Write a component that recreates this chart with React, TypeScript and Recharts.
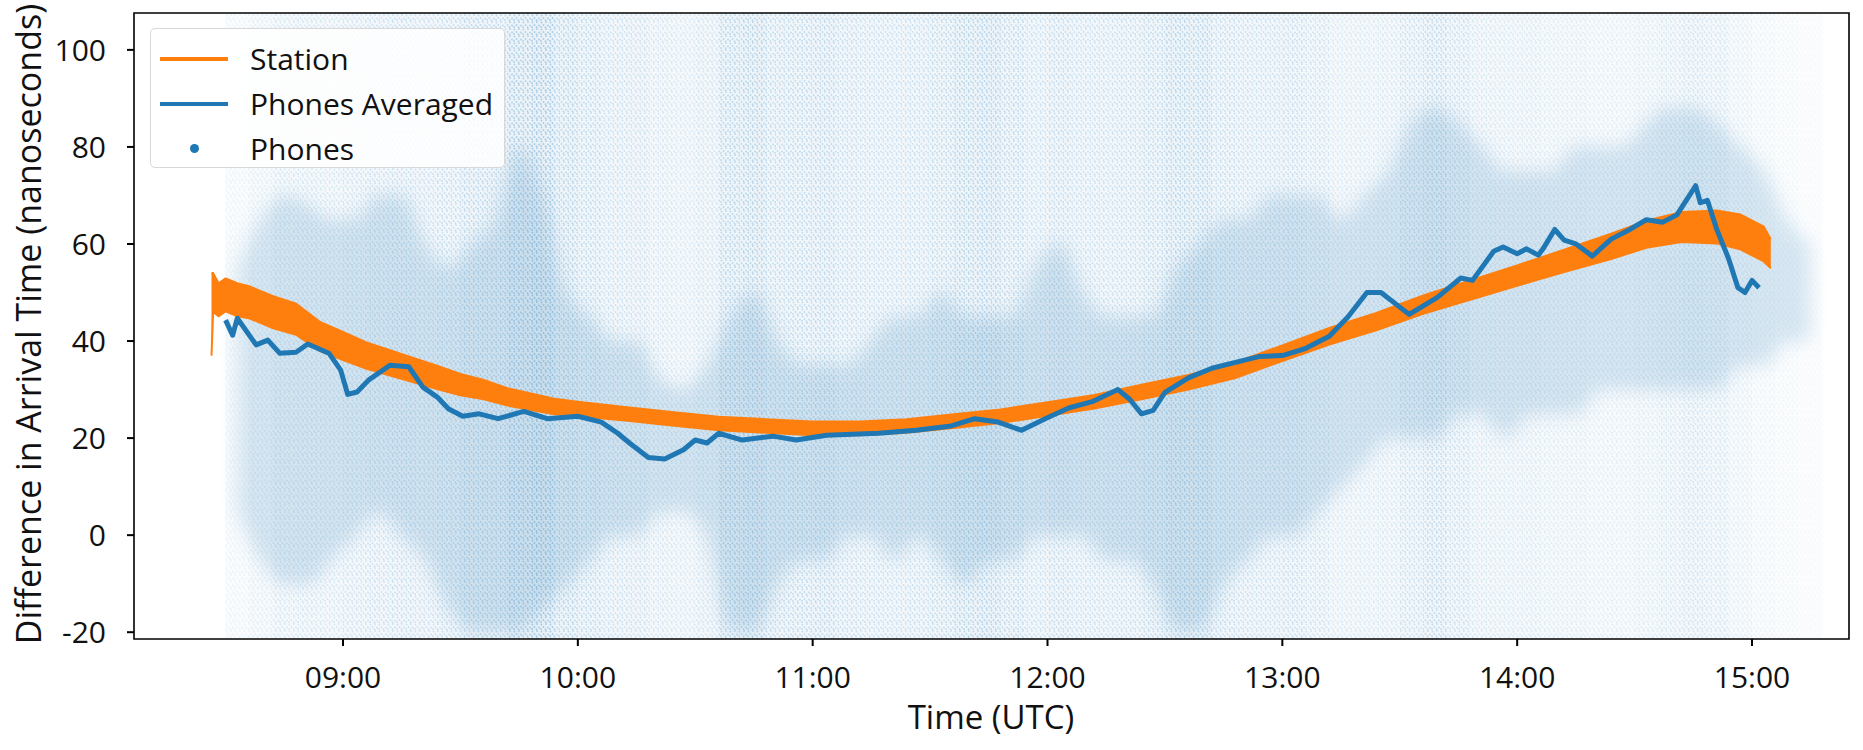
import React from 'react'
import { ComposedChart, Area, Line, XAxis, YAxis, ReferenceArea, Label } from 'recharts'

const BLUE = '#1f77b4'
const ORANGE = '#ff7f0e'
const FONT = "'Open Sans', sans-serif"

const X_MIN = 8.11
const X_MAX = 15.413
const Y_MIN = -21.4
const Y_MAX = 107.6

const xTicks = [9, 10, 11, 12, 13, 14, 15]
const yTicks = [-20, 0, 20, 40, 60, 80, 100]

// station (orange) – centre of the noisy band and its half width
const stationTime = [8.44, 8.447, 8.47, 8.5, 8.55, 8.6, 8.7, 8.8, 8.9, 9.0, 9.1, 9.2, 9.3, 9.4, 9.5, 9.6, 9.7, 9.8, 9.9, 10.0, 10.2, 10.4, 10.6, 10.8, 11.0, 11.2, 11.4, 11.6, 11.8, 12.0, 12.2, 12.4, 12.6, 12.8, 13.0, 13.2, 13.4, 13.6, 13.8, 14.0, 14.2, 14.4, 14.55, 14.7, 14.85, 14.95, 15.05, 15.08]
const stationMid = [45.5, 50, 48.5, 49.5, 48.5, 48, 46, 44.5, 41, 39, 37, 35.5, 34, 32.5, 31, 30, 28.5, 27.5, 26.5, 26, 25, 24, 23, 22.5, 22, 22, 22.5, 23.5, 24.5, 26, 27.5, 29.5, 31.5, 34, 37.5, 41, 44, 47.5, 50.5, 53.5, 56.5, 59.5, 62, 63.5, 63.5, 62.5, 60, 58]
const stationHalf = [8.5, 4, 3.4, 3.4, 3.4, 3.3, 3.3, 3.2, 3, 2.9, 2.7, 2.6, 2.5, 2.4, 2.2, 2, 1.8, 1.7, 1.6, 1.5, 1.4, 1.4, 1.4, 1.4, 1.4, 1.4, 1.4, 1.4, 1.4, 1.4, 1.4, 1.5, 1.5, 1.6, 1.6, 1.7, 1.8, 1.9, 2, 2.1, 2.3, 2.6, 2.8, 3.1, 3.4, 3.6, 3.6, 3]

// phones averaged (blue line)
const avgTime = [8.5, 8.53, 8.55, 8.63, 8.68, 8.73, 8.8, 8.85, 8.94, 8.99, 9.02, 9.06, 9.11, 9.2, 9.28, 9.34, 9.4, 9.45, 9.51, 9.58, 9.66, 9.77, 9.87, 10.0, 10.1, 10.17, 10.22, 10.3, 10.37, 10.45, 10.5, 10.55, 10.6, 10.7, 10.83, 10.93, 11.06, 11.28, 11.44, 11.59, 11.69, 11.79, 11.89, 11.99, 12.09, 12.19, 12.3, 12.35, 12.4, 12.45, 12.5, 12.6, 12.7, 12.8, 12.9, 13.0, 13.1, 13.2, 13.28, 13.36, 13.42, 13.54, 13.66, 13.76, 13.81, 13.9, 13.94, 14.0, 14.04, 14.09, 14.11, 14.16, 14.2, 14.25, 14.32, 14.4, 14.48, 14.55, 14.62, 14.68, 14.72, 14.76, 14.78, 14.81, 14.85, 14.9, 14.94, 14.97, 15.0, 15.03]
const avgValue = [44.3, 41.2, 44.7, 39.2, 40.2, 37.5, 37.7, 39.4, 37.5, 34, 29, 29.5, 32, 35, 34.7, 30.5, 28.5, 26, 24.5, 25, 24, 25.5, 24, 24.5, 23.3, 21, 19, 16, 15.7, 17.6, 19.6, 19, 21, 19.6, 20.4, 19.6, 20.6, 21, 21.6, 22.5, 24, 23.3, 21.6, 24, 26.2, 27.5, 30, 28, 25, 25.7, 29.4, 32.4, 34.4, 35.6, 36.8, 37, 38.5, 41, 45, 50, 50, 45.5, 49, 53, 52.5, 58.5, 59.4, 58, 59, 57.7, 59, 63, 60.8, 60, 57.5, 61, 63, 65, 64.5, 66, 69, 72, 68.5, 69, 63, 57, 51, 50, 52.5, 51]

// phones (scatter): density of the dots per 6-minute strip over the full height,
// and the range where the dots are thickest
const binStart = [8.5, 8.6, 8.7, 8.8, 8.9, 9.0, 9.1, 9.2, 9.3, 9.4, 9.5, 9.6, 9.7, 9.8, 9.9, 10.0, 10.1, 10.2, 10.3, 10.4, 10.5, 10.6, 10.7, 10.8, 10.9, 11.0, 11.1, 11.2, 11.3, 11.4, 11.5, 11.6, 11.7, 11.8, 11.9, 12.0, 12.1, 12.2, 12.3, 12.4, 12.5, 12.6, 12.7, 12.8, 12.9, 13.0, 13.1, 13.2, 13.3, 13.4, 13.5, 13.6, 13.7, 13.8, 13.9, 14.0, 14.1, 14.2, 14.3, 14.4, 14.5, 14.6, 14.7, 14.8, 14.9, 15.0, 15.1, 15.2]
const binDensity = [0.1, 0.15, 0.2, 0.21, 0.2, 0.23, 0.25, 0.27, 0.25, 0.28, 0.32, 0.32, 0.4, 0.44, 0.34, 0.3, 0.26, 0.25, 0.21, 0.19, 0.22, 0.34, 0.36, 0.3, 0.31, 0.32, 0.28, 0.26, 0.26, 0.27, 0.3, 0.35, 0.36, 0.31, 0.26, 0.29, 0.26, 0.26, 0.27, 0.3, 0.35, 0.34, 0.28, 0.26, 0.26, 0.27, 0.24, 0.19, 0.19, 0.2, 0.26, 0.31, 0.26, 0.2, 0.19, 0.19, 0.17, 0.17, 0.15, 0.15, 0.17, 0.2, 0.22, 0.2, 0.14, 0.1, 0.08, 0.05]
const coreLow = [5, -5, -10, -10, -5, 0, 5, 0, -5, -15, -20, -20, -20, -15, -10, -5, 0, 0, 5, 5, 0, -20, -20, -10, -5, -5, 0, 0, -5, 0, -5, -10, -5, -5, 0, 0, 0, -5, -5, -10, -20, -20, -10, -5, 0, 0, 5, 10, 15, 20, 20, 20, 25, 25, 20, 25, 25, 25, 30, 30, 30, 30, 30, 30, 35, 35, 40, 40]
const coreHigh = [55, 65, 70, 68, 65, 65, 70, 70, 60, 55, 60, 65, 80, 70, 50, 45, 40, 40, 32, 30, 35, 45, 50, 40, 35, 35, 35, 40, 45, 45, 50, 45, 45, 45, 55, 60, 50, 45, 45, 45, 55, 60, 65, 65, 70, 70, 70, 65, 70, 75, 85, 88, 85, 80, 75, 75, 75, 80, 80, 80, 85, 88, 88, 85, 80, 75, 65, 60]
const BIN_WIDTH = 0.1

const stationData = stationTime.map((t, i) => ({
  t,
  range: [stationMid[i] - stationHalf[i], stationMid[i] + stationHalf[i]],
}))
const avgData = avgTime.map((t, i) => ({ t, value: avgValue[i] }))
const coreData = binStart.map((t, i) => ({ t: t + BIN_WIDTH / 2, range: [coreLow[i], coreHigh[i]] }))

const fmtHour = (h: number) => `${String(h).padStart(2, '0')}:00`

function DotPattern() {
  return (
    <svg width={0} height={0} style={{ position: 'absolute' }}>
      <defs>
        <pattern id="phoneDots" patternUnits="userSpaceOnUse" width={9} height={7}>
          <rect width={9} height={7} fill={BLUE} fillOpacity={0.22} />
          <circle cx={1.5} cy={1.5} r={0.9} fill={BLUE} fillOpacity={0.85} />
          <circle cx={6} cy={1} r={0.9} fill={BLUE} fillOpacity={0.85} />
          <circle cx={3.5} cy={4} r={0.9} fill={BLUE} fillOpacity={0.85} />
          <circle cx={8} cy={4.5} r={0.9} fill={BLUE} fillOpacity={0.85} />
          <circle cx={1} cy={6} r={0.9} fill={BLUE} fillOpacity={0.85} />
          <circle cx={5.5} cy={6.2} r={0.9} fill={BLUE} fillOpacity={0.85} />
        </pattern>
      </defs>
    </svg>
  )
}

function ChartLegend() {
  const row = { display: 'flex', alignItems: 'center', height: 45 }
  const text = { fontFamily: FONT, fontSize: 30, color: '#111', marginLeft: 22 }
  return (
    <div
      style={{
        position: 'absolute',
        left: 150,
        top: 28,
        width: 355,
        height: 140,
        boxSizing: 'border-box',
        border: '1px solid #d8d8d8',
        borderRadius: 5,
        background: 'rgba(255,255,255,0.85)',
        padding: '7px 0 0 9px',
      }}
    >
      <div style={row}>
        <div style={{ width: 68, height: 4, background: ORANGE }} />
        <span style={text}>Station</span>
      </div>
      <div style={row}>
        <div style={{ width: 68, height: 4, background: BLUE }} />
        <span style={text}>Phones Averaged</span>
      </div>
      <div style={row}>
        <div style={{ width: 68, display: 'flex', justifyContent: 'center' }}>
          <div style={{ width: 9, height: 9, borderRadius: '50%', background: BLUE }} />
        </div>
        <span style={text}>Phones</span>
      </div>
    </div>
  )
}

export default function App() {
  return (
    <div style={{ position: 'absolute', left: 0, top: 0, width: 1863, height: 750, background: '#fff' }}>
      <style>{'.phone-core .recharts-area-area { filter: blur(9px); }'}</style>
      <DotPattern />
      <ComposedChart width={1863} height={750} margin={{ top: 13, right: 14, bottom: 0, left: 0 }}>
        <XAxis
          dataKey="t"
          type="number"
          domain={[X_MIN, X_MAX]}
          allowDataOverflow
          ticks={xTicks}
          tickFormatter={fmtHour}
          height={111}
          axisLine={false}
          tickSize={7}
          tickMargin={21}
          tickLine={{ stroke: '#000', strokeWidth: 2 }}
          tick={{ fontSize: 30, fill: '#111', fontFamily: FONT }}
        >
          <Label
            content={() => (
              <text x={991} y={716} textAnchor="middle" dominantBaseline="central" fontSize={33} fill="#111" fontFamily={FONT}>
                Time (UTC)
              </text>
            )}
          />
        </XAxis>
        <YAxis
          type="number"
          domain={[Y_MIN, Y_MAX]}
          allowDataOverflow
          ticks={yTicks}
          width={134}
          axisLine={false}
          tickSize={7}
          tickMargin={21}
          tickLine={{ stroke: '#000', strokeWidth: 2 }}
          tick={{ fontSize: 30, fill: '#111', fontFamily: FONT }}
        >
          <Label
            content={() => (
              <text
                x={28}
                y={324}
                transform="rotate(-90, 28, 324)"
                textAnchor="middle"
                dominantBaseline="central"
                fontSize={34}
                fill="#111"
                fontFamily={FONT}
              >
                Difference in Arrival Time (nanoseconds)
              </text>
            )}
          />
        </YAxis>

        {binStart.map((t, i) => (
          <ReferenceArea
            key={`strip-${i}`}
            x1={t}
            x2={t + BIN_WIDTH}
            y1={Y_MIN}
            y2={Y_MAX}
            fill="url(#phoneDots)"
            fillOpacity={binDensity[i]}
            stroke="none"
            ifOverflow="hidden"
          />
        ))}
        <Area
          className="phone-core"
          data={coreData}
          dataKey="range"
          type="monotone"
          stroke="none"
          fill={BLUE}
          fillOpacity={0.16}
          isAnimationActive={false}
        />

        <Area
          data={stationData}
          dataKey="range"
          type="linear"
          stroke={ORANGE}
          strokeWidth={2}
          fill={ORANGE}
          fillOpacity={1}
          isAnimationActive={false}
        />
        <Line
          data={avgData}
          dataKey="value"
          type="linear"
          stroke={BLUE}
          strokeWidth={5}
          strokeLinejoin="round"
          dot={false}
          isAnimationActive={false}
        />
        <ReferenceArea
          x1={X_MIN}
          x2={X_MAX}
          y1={Y_MIN}
          y2={Y_MAX}
          fill="none"
          stroke="#000"
          strokeWidth={1.6}
          ifOverflow="visible"
        />
      </ComposedChart>
      <ChartLegend />
    </div>
  )
}
